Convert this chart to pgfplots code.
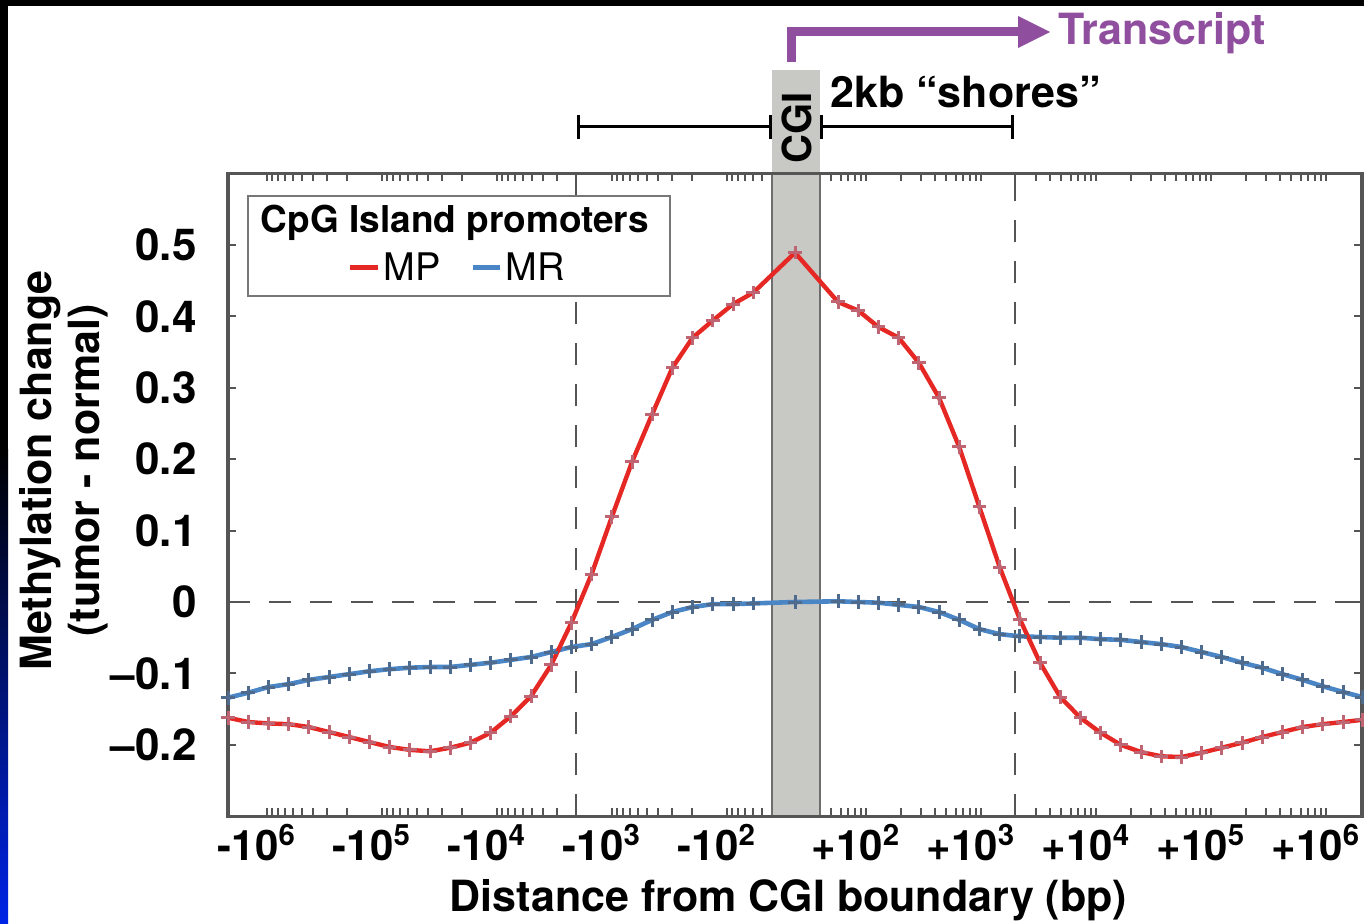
\documentclass[border=0pt]{standalone}
\usepackage{pgfplots}
\usepackage{pgfplotstable}
\pgfplotsset{compat=1.18}
\usepackage{fontspec}
\setmainfont{TeX Gyre Heros}
\definecolor{mpred}{RGB}{230,40,36}
\definecolor{mrblue}{RGB}{74,134,197}
\definecolor{mpmark}{RGB}{190,100,115}
\definecolor{mrmark}{RGB}{78,106,140}
\definecolor{axisgray}{RGB}{85,85,85}
\definecolor{cgigray}{RGB}{200,200,196}
\definecolor{cgiedge}{RGB}{110,110,110}
\definecolor{tpurple}{RGB}{143,78,158}
\definecolor{slideblue}{RGB}{0,36,230}

\pgfplotstableread{
x y
228.0 -0.162
248.2 -0.168
268.4 -0.170
288.6 -0.171
308.8 -0.175
329.0 -0.182
349.2 -0.189
369.4 -0.196
389.6 -0.203
409.8 -0.207
430.0 -0.209
450.2 -0.204
470.4 -0.197
490.6 -0.183
510.8 -0.160
531.0 -0.132
551.2 -0.088
571.4 -0.029
591.6 0.039
611.8 0.119
632.0 0.196
652.2 0.263
672.4 0.328
692.6 0.370
712.8 0.394
733.0 0.417
753.2 0.433
795.0 0.489
838.0 0.420
858.2 0.408
878.4 0.385
898.6 0.370
918.8 0.335
939.0 0.286
959.2 0.217
979.4 0.133
999.6 0.049
1019.8 -0.024
1040.0 -0.085
1060.2 -0.133
1080.4 -0.162
1100.6 -0.183
1120.8 -0.200
1141.0 -0.210
1161.2 -0.216
1181.4 -0.217
1201.6 -0.211
1221.8 -0.204
1242.0 -0.197
1262.2 -0.189
1282.4 -0.182
1302.6 -0.175
1322.8 -0.171
1343.0 -0.168
1362.0 -0.165
}\mpdata

\pgfplotstableread{
x y
228.0 -0.134
248.2 -0.127
268.4 -0.119
288.6 -0.115
308.8 -0.109
329.0 -0.105
349.2 -0.101
369.4 -0.097
389.6 -0.094
409.8 -0.092
430.0 -0.091
450.2 -0.091
470.4 -0.088
490.6 -0.085
510.8 -0.081
531.0 -0.077
551.2 -0.070
571.4 -0.063
591.6 -0.059
611.8 -0.049
632.0 -0.038
652.2 -0.025
672.4 -0.014
692.6 -0.007
712.8 -0.003
733.0 -0.003
753.2 -0.002
795.0 0.000
838.0 0.001
858.2 0.000
878.4 -0.001
898.6 -0.004
918.8 -0.007
939.0 -0.014
959.2 -0.025
979.4 -0.038
999.6 -0.045
1019.8 -0.048
1040.0 -0.049
1060.2 -0.050
1080.4 -0.050
1100.6 -0.052
1120.8 -0.053
1141.0 -0.056
1161.2 -0.059
1181.4 -0.063
1201.6 -0.070
1221.8 -0.077
1242.0 -0.085
1262.2 -0.092
1282.4 -0.101
1302.6 -0.109
1322.8 -0.118
1343.0 -0.126
1362.0 -0.133
}\mrdata

\newcommand\bigbf{\fontsize{21.5}{24}\selectfont\bfseries}

\begin{document}
\begin{tikzpicture}
\useasboundingbox (0,0) rectangle (682pt,-462pt);
\begin{scope}[x=0.5pt,y=-0.5pt]
\fill[black] (0,0) rectangle (1364,924);
\fill[white] (8,6) rectangle (1364,924);
\shade[top color=black,bottom color=slideblue] (0,450) rectangle (8,924);
\end{scope}

\begin{axis}[
  at={(114pt,-408.15pt)}, anchor=south west,
  scale only axis, width=567pt, height=321.45pt,
  xmin=228, xmax=1362, ymin=-0.3, ymax=0.6,
  clip=false, axis on top,
  axis line style={axisgray, line width=1.8pt},
  tick style={axisgray, line width=1pt},
  tick align=inside,
  xtick pos=both, ytick pos=both,
  xticklabel pos=left, yticklabel pos=left,
  major tick length=4pt, minor tick length=4pt,
  xtick={267,382,497,612,727,866,981,1096,1211,1326},
  xticklabels={-10\textsuperscript{6},-10\textsuperscript{5},-10\textsuperscript{4},-10\textsuperscript{3},-10\textsuperscript{2},+10\textsuperscript{2},+10\textsuperscript{3},+10\textsuperscript{4},+10\textsuperscript{5},+10\textsuperscript{6}},
  minor xtick={272.3,278.1,284.8,292.5,301.6,312.8,327.1,347.4,387.3,393.1,399.8,407.5,416.6,427.8,442.1,462.4,502.3,508.1,514.8,522.5,531.6,542.8,557.1,617.3,623.1,629.8,637.5,646.6,657.8,672.1,692.4,732.3,738.1,744.8,752.5,761.6,831,840.5,848,855,860.7,900.6,920.9,935.2,946.4,955.5,963.2,969.9,975.7,1035.9,1050.2,1061.4,1070.5,1078.2,1084.9,1090.7,1130.6,1150.9,1165.2,1176.4,1185.5,1193.2,1199.9,1205.7,1245.6,1265.9,1280.2,1291.4,1300.5,1308.2,1314.9,1320.7},
  ytick={-0.2,-0.1,0,0.1,0.2,0.3,0.4,0.5},
  yticklabels={–0.2,–0.1,0,0.1,0.2,0.3,0.4,0.5},
  yticklabel style={font=\fontsize{22}{24}\selectfont\bfseries, inner sep=0pt, anchor=east, xshift=-15.5pt},
  xticklabel style={font=\fontsize{21}{24}\selectfont\bfseries, inner sep=0pt, anchor=base, yshift=-22pt, xshift=-5pt},
  xlabel={Distance from CGI boundary (bp)},
  xlabel style={at={(axis description cs:0.4942,-0.1488)}, anchor=base, font=\bigbf, inner sep=0pt},
  ylabel={Methylation change\\(tumor - normal)},
  ylabel style={at={(axis description cs:-0.1446,0.538)}, anchor=center, align=center, font=\bigbf, inner sep=0pt},
]
\fill[cgigray] (axis cs:772,-0.3) rectangle (axis cs:820,0.745);
\draw[cgiedge, line width=1.3pt] (axis cs:772,-0.3) -- (axis cs:772,0.6);
\draw[cgiedge, line width=1.3pt] (axis cs:820,-0.3) -- (axis cs:820,0.6);
\draw[axisgray, line width=1.4pt, dash pattern=on 11pt off 9.5pt] (axis cs:576,-0.3) -- (axis cs:576,0.6);
\draw[axisgray, line width=1.4pt, dash pattern=on 11pt off 9.5pt] (axis cs:1015,-0.3) -- (axis cs:1015,0.6);
\draw[axisgray, line width=1.4pt, dash pattern=on 11pt off 9.5pt] (axis cs:228,0) -- (axis cs:1362,0);
\draw[axisgray, line width=1pt] (axis cs:576,-0.3) -- ++(0pt,9pt);
\draw[axisgray, line width=1pt] (axis cs:576,0.6) -- ++(0pt,-9pt);
\draw[axisgray, line width=1pt] (axis cs:1015,-0.3) -- ++(0pt,9pt);
\draw[axisgray, line width=1pt] (axis cs:1015,0.6) -- ++(0pt,-9pt);
\addplot[mrblue, line width=2.3pt, mark=+, mark size=3.4pt, mark options={draw=mrmark, line width=1.5pt}] table[x=x,y=y] {\mrdata};
\addplot[mpred, line width=2.2pt, mark=+, mark size=3.4pt, mark options={draw=mpmark, line width=1.5pt}] table[x=x,y=y] {\mpdata};
\end{axis}

\begin{scope}[x=0.5pt,y=-0.5pt]
% legend
\draw[axisgray!80, line width=1pt, fill=white] (248,196) rectangle (670,296);
\node[anchor=base, inner sep=0pt, font=\fontsize{18.5}{20}\selectfont\bfseries] at (455,233) {CpG Island promoters};
\draw[mpred, line width=2.5pt] (350,268) -- (378,268);
\node[anchor=base west, inner sep=0pt, font=\fontsize{19}{21}\selectfont] at (383,281) {MP};
\draw[mrblue, line width=2.5pt] (473,268) -- (500,268);
\node[anchor=base west, inner sep=0pt, font=\fontsize{19}{21}\selectfont] at (505,281) {MR};
% CGI bar label
\node[rotate=90, inner sep=0pt, font=\fontsize{20}{22}\selectfont\bfseries] at (797,128) {CGI};
% shores brackets
\draw[black, line width=1.5pt] (578,127) -- (770,127);
\draw[black, line width=1.5pt] (578,115) -- (578,139);
\draw[black, line width=1.5pt] (770,115) -- (770,139);
\draw[black, line width=1.5pt] (821,127) -- (1012,127);
\draw[black, line width=1.5pt] (821,115) -- (821,139);
\draw[black, line width=1.5pt] (1012,115) -- (1012,139);
\node[anchor=base west, inner sep=0pt, font=\bigbf] at (830,108) {2kb “shores”};
% transcript arrow
\draw[tpurple, line width=4.5pt, line join=miter, line cap=butt] (791,62) -- (791,32) -- (1022,32);
\fill[tpurple] (1018,16) -- (1050,32) -- (1018,48) -- cycle;
\node[anchor=base west, inner sep=0pt, font=\bigbf, text=tpurple] at (1058,45) {Transcript};
\end{scope}
\end{tikzpicture}
\end{document}
